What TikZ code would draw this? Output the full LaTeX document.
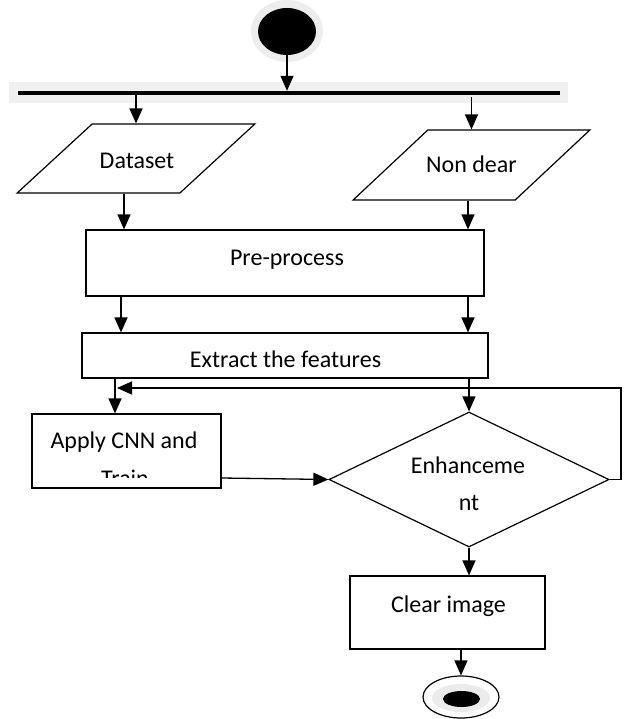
\documentclass[tikz,border=0pt]{standalone}
\usepackage{fontspec}
\setmainfont{Carlito}
\usetikzlibrary{shapes.geometric,arrows.meta}

\tikzset{
    box/.style={draw, rectangle, line width=1.2pt, inner sep=0pt},
    iobox/.style={draw, trapezium, trapezium left angle=49.5, trapezium right angle=130.5,
        trapezium stretches=true, line width=1.2pt, inner sep=4pt},
    arr/.style={line width=1.3pt, -{Triangle[length=15pt,width=13pt]}},
    lbl/.style={anchor=base, inner sep=0pt, font=\fontsize{24}{29}\selectfont},
}

\begin{document}
\begin{tikzpicture}[x=1pt, y=-1pt]
    \useasboundingbox (0,0) rectangle (623,719);
    % start and fork
    \fill[black!7] (287,31) ellipse [x radius=36, y radius=31];
    \node[ellipse, fill=black, minimum width=58pt, minimum height=47pt, inner sep=0pt] (start) at (287,31.5) {};
    \fill[black!6] (9,82) rectangle (568,103);
    \node[fill=black, minimum width=542pt, minimum height=4pt, inner sep=0pt] (bar) at (289,93) {};
    % inputs
    \node[iobox, minimum width=238pt, minimum height=69pt] (dataset) at (136,158.5) {};
    \node[iobox, minimum width=237pt, minimum height=70pt] (nondear) at (471.5,165) {};
    \node[lbl] (datasett) at (137,169) {Dataset};
    \node[lbl] (nondeart) at (471.5,173) {Non dear};
    % processing
    \node[box, minimum width=398pt, minimum height=66pt] (pre) at (285,263) {};
    \node[box, minimum width=406pt, minimum height=45pt] (ext) at (285,355.5) {};
    \node[box, minimum width=189pt, minimum height=74pt] (apply) at (126.5,451) {};
    \node[diamond, draw, line width=1.2pt, minimum width=280pt, minimum height=135pt, inner sep=0pt] (enh) at (469,479.5) {};
    \node[box, minimum width=195pt, minimum height=73pt] (clear) at (447.5,612.5) {};
    \node[lbl] (pret) at (287,265) {Pre-process};
    \node[lbl] (extt) at (285.5,367) {Extract the features};
    \begin{scope}
        \clip (33,415) rectangle (220,477);
        \node[lbl] (applyt) at (124,448) {Apply CNN and};
        \node[lbl] (traint) at (125,486.5) {Train};
    \end{scope}
    \node[lbl] (enht) at (468,473) {Enhanceme};
    \node[lbl] (ntt) at (469,510) {nt};
    \node[lbl] (cleart) at (448.5,612) {Clear image};
    % end
    \node[ellipse, draw, line width=1.2pt, fill=white, minimum width=76pt, minimum height=42pt, inner sep=0pt] (stop) at (461,697) {};
    \fill[black!8] (461,698) ellipse [x radius=29, y radius=14];
    \node[ellipse, fill=black, minimum width=37pt, minimum height=16pt, inner sep=0pt] (stopdot) at (461.5,699) {};
    % connectors
    \coordinate (loopr) at (621,388);
    \coordinate (loopl) at (117,388);
    \draw[arr] (start.south) -- (start.south |- bar.north);
    \draw[arr] (bar.south -| dataset.north) -- (dataset.north);
    \draw[arr] ([yshift=-2pt]bar.south -| nondear.north) -- (nondear.north);
    \draw[arr] ([xshift=-12pt]dataset.south) -- ([xshift=-12pt]dataset.south |- pre.north);
    \draw[arr] ([xshift=-3.5pt]nondear.south) -- ([xshift=-3.5pt]nondear.south |- pre.north);
    \draw[arr] ([xshift=-164pt]pre.south) -- ([xshift=-164pt]pre.south |- ext.north);
    \draw[arr] ([xshift=183pt]pre.south) -- ([xshift=183pt]pre.south |- ext.north);
    \draw[arr] ([xshift=-170pt]ext.south) -- ([xshift=-170pt]ext.south |- apply.north);
    \draw[arr] (ext.south -| enh.north) -- (enh.north);
    \draw[arr] (enh.east) -- (enh.east -| loopr) -- (loopr) -- (loopl);
    \draw[arr] ([yshift=-27pt]apply.east) -- (enh.west);
    \draw[arr] (enh.south) -- (enh.south |- clear.north);
    \draw[arr] (clear.south -| stop.north) -- (stop.north);
\end{tikzpicture}
\end{document}
